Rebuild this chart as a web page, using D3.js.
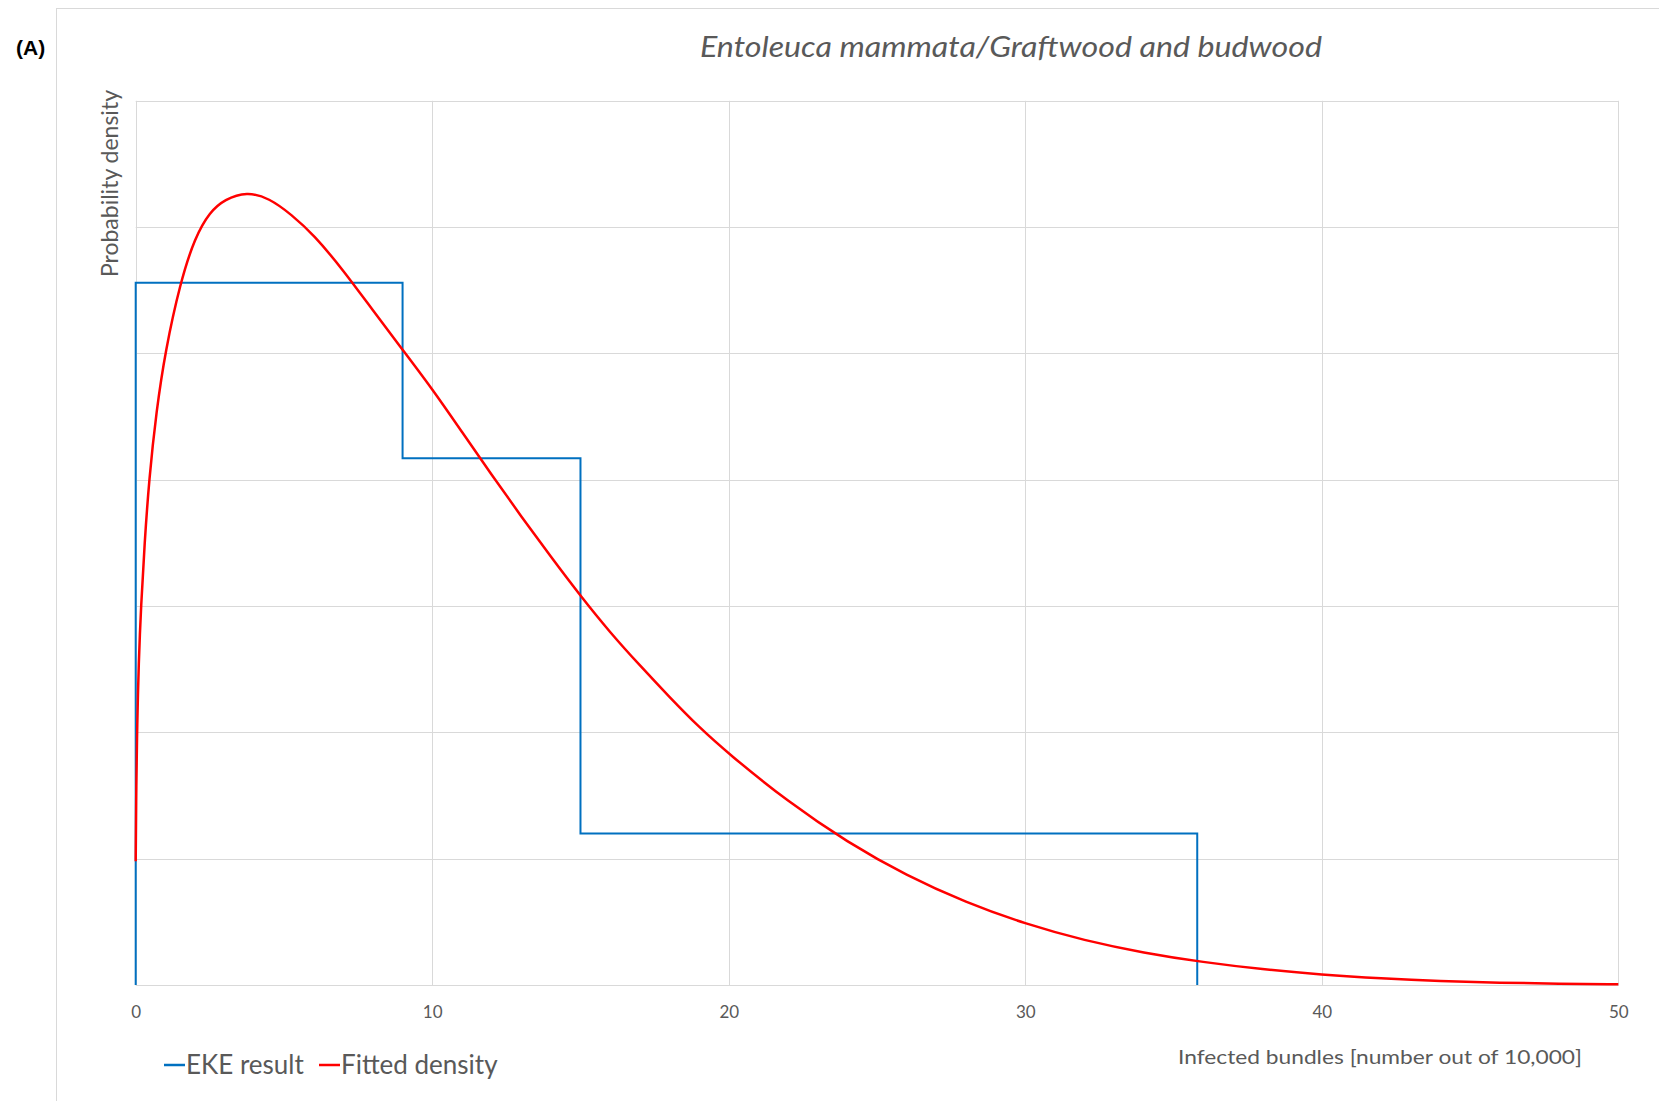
<!DOCTYPE html>
<html>
<head>
<meta charset="utf-8">
<script src="https://cdn.jsdelivr.net/npm/d3@7"></script>
<style>
  html, body { margin: 0; padding: 0; background: #ffffff; }
  svg { display: block; }
  text { font-family: Lato, "Open Sans", "Liberation Sans", sans-serif; fill: #595959; }
</style>
</head>
<body>
<svg id="chart" width="1659" height="1101"></svg>
<script>
// ---- data ----
const panelLabel = "(A)";
const chartTitle = "Entoleuca mammata/Graftwood and budwood";
const yAxisTitle = "Probability density";
const xAxisTitle = "Infected bundles [number out of 10,000]";
const xTickValues = [0, 10, 20, 30, 40, 50];
const yGridValues = [0, 0.01, 0.02, 0.03, 0.04, 0.05, 0.06, 0.07];
const seriesNames = ["EKE result", "Fitted density"];

// EKE histogram: bin edges and density per bin
const ekeEdges = [0, 9, 15, 35.8];
const ekeDensity = [0.0556, 0.0417, 0.0120];

// Fitted density curve, read point by point
const fitX = [0, 0.02, 0.05, 0.1, 0.18, 0.3, 0.45, 0.7, 1.0, 1.5, 2.0, 2.5, 3.0, 3.75, 4.5, 5.25, 6.0, 7.0, 8.0, 9.0, 10, 11, 12, 13, 14, 15, 16, 17, 18, 19, 20, 22, 24, 26, 28, 30, 32, 34, 36, 38, 40, 42, 44, 46, 48, 50];
const fitY = [0.0098, 0.0160, 0.0205, 0.0255, 0.0300, 0.0350, 0.0400, 0.0455, 0.0502, 0.0556, 0.0592, 0.0612, 0.0622, 0.0628, 0.0623, 0.0610, 0.0594, 0.0566, 0.0534, 0.0503, 0.0472, 0.0438, 0.0404, 0.0371, 0.0339, 0.0308, 0.0279, 0.0253, 0.0228, 0.0204, 0.0183, 0.0145, 0.0113, 0.00865, 0.00653, 0.00483, 0.00352, 0.00254, 0.00180, 0.00124, 0.00082, 0.00052, 0.00030, 0.00018, 0.00010, 0.00005];

// ---- layout ----
const svg = d3.select("#chart");
const plot = { left: 135.7, right: 1618.3, top: 100.8, bottom: 985 };

const x = d3.scaleLinear().domain([0, 50]).range([plot.left, plot.right]);
const y = d3.scaleLinear().domain([0, 0.07]).range([plot.bottom, plot.top]);

// outer chart border
svg.append("rect")
  .attr("x", 56.5).attr("y", 8.5)
  .attr("width", 1700).attr("height", 1200)
  .attr("fill", "none").attr("stroke", "#d9d9d9").attr("stroke-width", 1);

// panel label
svg.append("text")
  .attr("x", 16).attr("y", 55)
  .style("font-family", "'Liberation Sans', Arial, sans-serif")
  .style("font-weight", "bold").style("font-size", "21px")
  .style("fill", "#000000")
  .text(panelLabel);

// title
svg.append("text")
  .attr("x", 1011).attr("y", 57)
  .attr("text-anchor", "middle")
  .style("font-style", "italic").style("font-size", "29px")
  .attr("textLength", 622).attr("lengthAdjust", "spacingAndGlyphs")
  .text(chartTitle);

// gridlines
const grid = svg.append("g");
grid.selectAll("line.h").data(yGridValues).enter().append("line")
  .attr("class", "h")
  .attr("x1", plot.left).attr("x2", plot.right)
  .attr("y1", d => Math.round(y(d)) + 0.5).attr("y2", d => Math.round(y(d)) + 0.5)
  .attr("stroke", "#d9d9d9").attr("stroke-width", 1);
grid.selectAll("line.v").data(xTickValues).enter().append("line")
  .attr("class", "v")
  .attr("y1", plot.top).attr("y2", plot.bottom)
  .attr("x1", d => Math.round(x(d)) + 0.5).attr("x2", d => Math.round(x(d)) + 0.5)
  .attr("stroke", "#d9d9d9").attr("stroke-width", 1);

// x axis labels
const xAxis = d3.axisBottom(x).tickValues(xTickValues).tickSize(0).tickPadding(0).tickFormat(d3.format("d"));
const gx = svg.append("g").attr("transform", `translate(0,${plot.bottom})`).call(xAxis);
gx.select(".domain").attr("stroke", "#d9d9d9");
gx.selectAll("text")
  .attr("y", 33).attr("dy", null)
  .style("font-size", "17px").style("fill", "#595959");

// y axis title
svg.append("text")
  .attr("transform", `translate(110,90) rotate(-90)`)
  .attr("text-anchor", "end")
  .attr("dy", "0.35em")
  .style("font-size", "23px")
  .text(yAxisTitle);

// x axis title
svg.append("text")
  .attr("x", 1178).attr("y", 1064)
  .style("font-size", "20px")
  .attr("textLength", 404).attr("lengthAdjust", "spacingAndGlyphs")
  .text(xAxisTitle);

// EKE step series
const ekePoints = [{ x: ekeEdges[0], y: 0 }];
ekeDensity.forEach((h, i) => {
  ekePoints.push({ x: ekeEdges[i], y: h });
  ekePoints.push({ x: ekeEdges[i + 1], y: h });
});
ekePoints.push({ x: ekeEdges[ekeEdges.length - 1], y: 0 });

const lineGen = d3.line().x(d => x(d.x)).y(d => y(d.y));
svg.append("path")
  .datum(ekePoints)
  .attr("d", lineGen)
  .attr("fill", "none").attr("stroke", "#0070c0").attr("stroke-width", 2)
  .attr("stroke-linejoin", "miter");

// Fitted density
const fitPoints = fitX.map((v, i) => ({ x: v, y: fitY[i] }));
svg.append("path")
  .datum(fitPoints)
  .attr("d", d3.line().x(d => x(d.x)).y(d => y(d.y)).curve(d3.curveBasis))
  .attr("fill", "none").attr("stroke", "#ff0000").attr("stroke-width", 2.5)
  .attr("stroke-linejoin", "round");

// legend
const legendColors = ["#0070c0", "#ff0000"];
const legendX = [164, 319];
const legend = svg.append("g");
seriesNames.forEach((name, i) => {
  legend.append("line")
    .attr("x1", legendX[i]).attr("x2", legendX[i] + 21)
    .attr("y1", 1065).attr("y2", 1065)
    .attr("stroke", legendColors[i]).attr("stroke-width", 2.5);
  legend.append("text")
    .attr("x", legendX[i] + 22).attr("y", 1074)
    .style("font-size", "26px")
    .text(name);
});
</script>
</body>
</html>
